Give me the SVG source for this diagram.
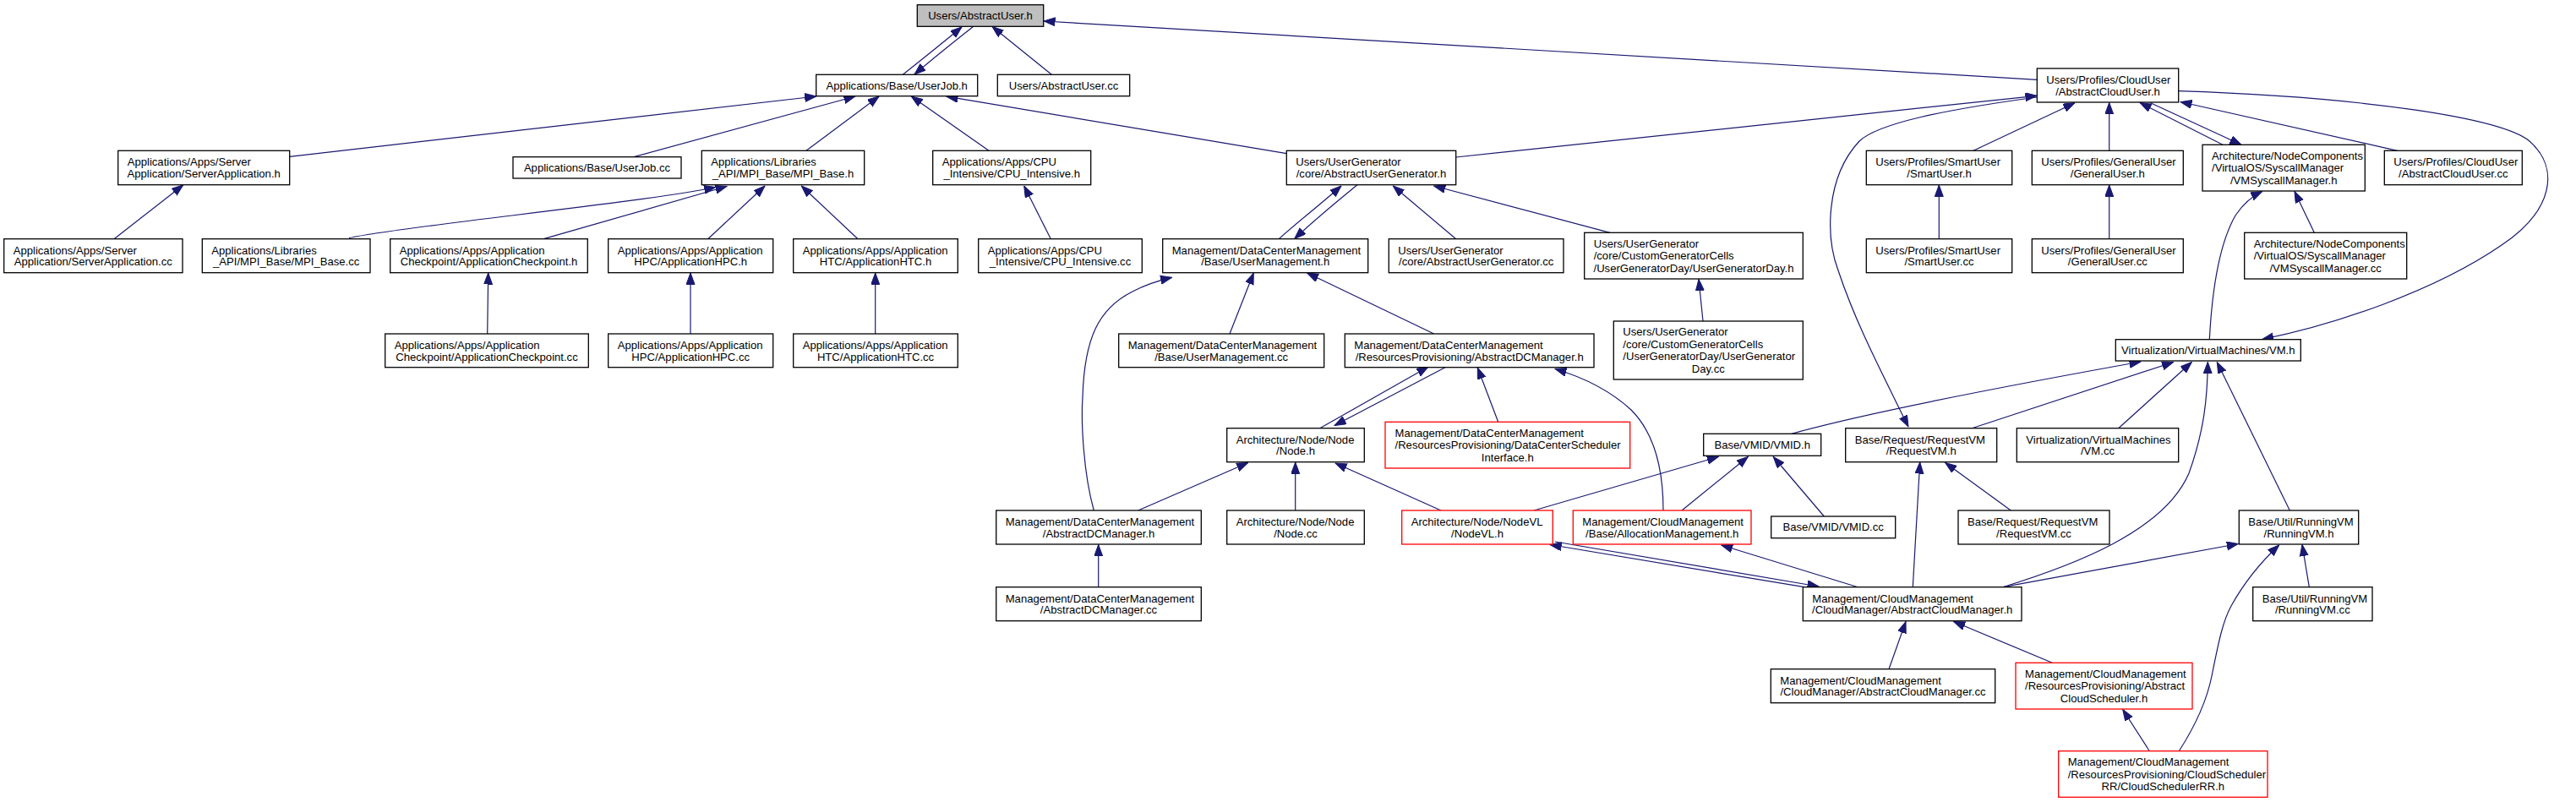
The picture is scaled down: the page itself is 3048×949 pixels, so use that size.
<svg xmlns="http://www.w3.org/2000/svg" width="3048" height="949" viewBox="0 0 3048 949">
<defs>
<style>
.n rect{fill:#fff;stroke:#000;stroke-width:1.3}
.r rect{stroke:#ff0000}
.g rect{fill:#bfbfbf}
text{font-family:"Liberation Sans",Arial,Helvetica,sans-serif;font-size:13.1px;fill:#000}
.c{text-anchor:middle}
#edges path{fill:none;stroke:#191970;stroke-width:1.2;marker-end:url(#ah)}
</style>
<marker id="ah" markerUnits="userSpaceOnUse" markerWidth="14" markerHeight="11" refX="13.5" refY="5" orient="auto">
<path d="M0,0 L13.5,5 L0,10 z" fill="#191970" stroke="#191970" stroke-width="1"/>
</marker>
</defs>
<rect width="3048" height="949" fill="#fff"/>
<g id="edges">
<path d="M1068.3,88.3 C1085,75 1110,55 1138,32"/>
<path d="M1151.7,31.3 C1133,46 1110,64 1082,88"/>
<path d="M1244.3,88.3 L1174,31.5"/>
<path d="M2410.3,94.3 L1235,25"/>
<path d="M342.7,185.3 L965.7,114"/>
<path d="M750,185.7 L1012,114"/>
<path d="M954,178.3 L1040,114"/>
<path d="M1170,178.3 L1078.3,114"/>
<path d="M1522.3,181.7 L1120,114.2"/>
<path d="M1513.3,282.7 C1530,267 1560,244 1587,220"/>
<path d="M1606,218.7 C1590,232 1560,256 1531.7,282.5"/>
<path d="M135,282.7 L216.7,219"/>
<path d="M413,281.7 C470,268 760,240 846.7,221.5"/>
<path d="M643.3,282.7 L860,220.5"/>
<path d="M837.7,282.7 L905,220"/>
<path d="M1015,282.7 L948.3,220"/>
<path d="M576.7,395 L577.7,323"/>
<path d="M817,395 L817,323"/>
<path d="M1035.7,395 L1035.7,323"/>
<path d="M1243.3,282.7 L1211.7,220"/>
<path d="M1722.7,186 L2410,113.3"/>
<path d="M2410,115 C2300,130 2222,146 2200,167 C2160,210 2160,280 2175,320 C2195,380 2222,432 2258,505"/>
<path d="M2335,178.3 L2455,121.7"/>
<path d="M2495.7,178.3 L2495.7,121.5"/>
<path d="M2630,171.3 L2532,121.5"/>
<path d="M2544,121.5 L2652,171.3"/>
<path d="M2836.7,178.3 L2580,120.5"/>
<path d="M2577.7,107.7 C2800,115 2960,140 2993,167 C3030,200 3020,250 2960,290 C2880,345 2760,385 2676.7,401.5"/>
<path d="M2614.3,401.7 C2617,350 2625,290 2645,255 C2655,240 2665,232 2676.7,226.5"/>
<path d="M2738.3,275.3 L2715,226.5"/>
<path d="M2294.3,282.7 L2294.3,219"/>
<path d="M2495.7,282.7 L2495.7,219"/>
<path d="M1722.7,282.7 L1648.3,220"/>
<path d="M1905,275.3 L1696.7,220"/>
<path d="M2015,380 L2010,330.5"/>
<path d="M1455,395 L1483.3,323"/>
<path d="M1696.7,395 L1546.7,323"/>
<path d="M1294.3,604 C1282,560 1279,500 1281,470 C1283,400 1300,365 1340,345 C1355,337 1370,332 1386.7,328.3"/>
<path d="M1561.7,506.7 L1690,434"/>
<path d="M1710,434.7 L1579,503.5"/>
<path d="M1772.7,499.3 L1748.3,435"/>
<path d="M1968,604 C1968,560 1960,515 1930,485 C1905,462 1875,447 1840,436.5"/>
<path d="M1346.7,604 L1476.7,547.5"/>
<path d="M1299.7,694.7 L1299.7,644.5"/>
<path d="M1532.7,604 L1532.7,547"/>
<path d="M1705,604 L1580,548"/>
<path d="M1815,604 L2033.3,540.5"/>
<path d="M1990,604 L2068.3,540.5"/>
<path d="M2158.3,611 L2098.3,540.5"/>
<path d="M2120,513.3 C2180,496 2300,470 2533,428"/>
<path d="M2333.3,506.7 L2571.7,428.5"/>
<path d="M2506.7,506.7 L2593.3,428.5"/>
<path d="M2370,694.7 C2450,670 2560,630 2590,560 C2608,510 2612,470 2612.3,428.5"/>
<path d="M2709.3,604 L2623.3,428.5"/>
<path d="M2370,694.7 L2648.3,643.5"/>
<path d="M2135,694.7 L1834,644.5"/>
<path d="M1840,641 L2152,694"/>
<path d="M2198.3,694.7 L2036.7,645"/>
<path d="M2263.3,694.7 L2271.7,547"/>
<path d="M2379.3,604 L2301.7,547.5"/>
<path d="M2235,791.7 L2255,735.5"/>
<path d="M2428.3,784.3 L2311.7,735.5"/>
<path d="M2543.3,888.7 L2511.7,839.5"/>
<path d="M2578.3,888.7 C2600,855 2612,825 2617,800 C2625,760 2630,735 2640,717 C2655,690 2672,668 2696.7,645"/>
<path d="M2732.3,694.7 L2724,644.5"/>
</g>
<g id="node_AbstractUser_h" class="n g"><rect x="1085.3" y="5.7" width="149.4" height="25.6"/><text class="c" x="1160" y="23">Users/AbstractUser.h</text></g>
<g id="node_UserJob_h" class="n"><rect x="965.7" y="88.3" width="191" height="25.4"/><text class="c" x="1061.2" y="105.5">Applications/Base/UserJob.h</text></g>
<g id="node_AbstractUser_cc" class="n"><rect x="1180.3" y="88.3" width="156.4" height="25.4"/><text class="c" x="1258.5" y="105.5">Users/AbstractUser.cc</text></g>
<g id="node_AbstractCloudUser_h" class="n"><rect x="2410.3" y="81" width="167.4" height="40"/><text x="2421.3" y="98.8">Users/Profiles/CloudUser</text><text class="c" x="2494" y="112.5">/AbstractCloudUser.h</text></g>
<g id="node_ServerApplication_h" class="n"><rect x="139.7" y="178.3" width="203" height="40.4"/><text x="150.7" y="196.1">Applications/Apps/Server</text><text class="c" x="241.2" y="209.8">Application/ServerApplication.h</text></g>
<g id="node_UserJob_cc" class="n"><rect x="607" y="185.7" width="199" height="25.3"/><text class="c" x="706.5" y="202.9">Applications/Base/UserJob.cc</text></g>
<g id="node_MPI_Base_h" class="n"><rect x="830.3" y="178.3" width="192.4" height="40.4"/><text x="841.3" y="196.1">Applications/Libraries</text><text class="c" x="926.5" y="209.8">_API/MPI_Base/MPI_Base.h</text></g>
<g id="node_CPU_Intensive_h" class="n"><rect x="1103.7" y="178.3" width="187" height="40.4"/><text x="1114.7" y="196.1">Applications/Apps/CPU</text><text class="c" x="1197.2" y="209.8">_Intensive/CPU_Intensive.h</text></g>
<g id="node_AbstractUserGenerator_h" class="n"><rect x="1522.3" y="178.3" width="200.4" height="40.4"/><text x="1533.3" y="196.1">Users/UserGenerator</text><text class="c" x="1622.5" y="209.8">/core/AbstractUserGenerator.h</text></g>
<g id="node_SmartUser_h" class="n"><rect x="2208.3" y="178.3" width="172.4" height="40.4"/><text x="2219.3" y="196.1">Users/Profiles/SmartUser</text><text class="c" x="2294.5" y="209.8">/SmartUser.h</text></g>
<g id="node_GeneralUser_h" class="n"><rect x="2404.3" y="178.3" width="179" height="40.4"/><text x="2415.3" y="196.1">Users/Profiles/GeneralUser</text><text class="c" x="2493.8" y="209.8">/GeneralUser.h</text></g>
<g id="node_VMSyscallManager_h" class="n"><rect x="2606" y="171.3" width="192.3" height="54.7"/><text x="2617" y="188.5">Architecture/NodeComponents</text><text x="2617" y="203.2">/VirtualOS/SyscallManager</text><text class="c" x="2702.2" y="217.9">/VMSyscallManager.h</text></g>
<g id="node_AbstractCloudUser_cc" class="n"><rect x="2821.3" y="178.3" width="163" height="40.4"/><text x="2832.3" y="196.1">Users/Profiles/CloudUser</text><text class="c" x="2902.8" y="209.8">/AbstractCloudUser.cc</text></g>
<g id="node_ServerApplication_cc" class="n"><rect x="4.7" y="282.7" width="211.3" height="40"/><text x="15.7" y="300.5">Applications/Apps/Server</text><text class="c" x="110.3" y="314.2">Application/ServerApplication.cc</text></g>
<g id="node_MPI_Base_cc" class="n"><rect x="239.3" y="282.7" width="198.7" height="40"/><text x="250.3" y="300.5">Applications/Libraries</text><text class="c" x="338.7" y="314.2">_API/MPI_Base/MPI_Base.cc</text></g>
<g id="node_ApplicationCheckpoint_h" class="n"><rect x="461.7" y="282.7" width="233.6" height="40"/><text x="472.7" y="300.5">Applications/Apps/Application</text><text class="c" x="578.5" y="314.2">Checkpoint/ApplicationCheckpoint.h</text></g>
<g id="node_ApplicationHPC_h" class="n"><rect x="719.7" y="282.7" width="195" height="40"/><text x="730.7" y="300.5">Applications/Apps/Application</text><text class="c" x="817.2" y="314.2">HPC/ApplicationHPC.h</text></g>
<g id="node_ApplicationHTC_h" class="n"><rect x="938.7" y="282.7" width="194.6" height="40"/><text x="949.7" y="300.5">Applications/Apps/Application</text><text class="c" x="1036" y="314.2">HTC/ApplicationHTC.h</text></g>
<g id="node_CPU_Intensive_cc" class="n"><rect x="1157.7" y="282.7" width="193.6" height="40"/><text x="1168.7" y="300.5">Applications/Apps/CPU</text><text class="c" x="1254.5" y="314.2">_Intensive/CPU_Intensive.cc</text></g>
<g id="node_UserManagement_h" class="n"><rect x="1375.7" y="282.7" width="243" height="40"/><text x="1386.7" y="300.5">Management/DataCenterManagement</text><text class="c" x="1497.2" y="314.2">/Base/UserManagement.h</text></g>
<g id="node_AbstractUserGenerator_cc" class="n"><rect x="1643.3" y="282.7" width="206.7" height="40"/><text x="1654.3" y="300.5">Users/UserGenerator</text><text class="c" x="1746.7" y="314.2">/core/AbstractUserGenerator.cc</text></g>
<g id="node_UserGeneratorDay_h" class="n"><rect x="1874.7" y="275.3" width="258.6" height="54.7"/><text x="1885.7" y="292.5">Users/UserGenerator</text><text x="1885.7" y="307.2">/core/CustomGeneratorCells</text><text class="c" x="2004" y="321.9">/UserGeneratorDay/UserGeneratorDay.h</text></g>
<g id="node_SmartUser_cc" class="n"><rect x="2208.3" y="282.7" width="172.4" height="40"/><text x="2219.3" y="300.5">Users/Profiles/SmartUser</text><text class="c" x="2294.5" y="314.2">/SmartUser.cc</text></g>
<g id="node_GeneralUser_cc" class="n"><rect x="2404.3" y="282.7" width="179" height="40"/><text x="2415.3" y="300.5">Users/Profiles/GeneralUser</text><text class="c" x="2493.8" y="314.2">/GeneralUser.cc</text></g>
<g id="node_VMSyscallManager_cc" class="n"><rect x="2655.7" y="275.3" width="192" height="54.7"/><text x="2666.7" y="292.5">Architecture/NodeComponents</text><text x="2666.7" y="307.2">/VirtualOS/SyscallManager</text><text class="c" x="2751.7" y="321.9">/VMSyscallManager.cc</text></g>
<g id="node_ApplicationCheckpoint_cc" class="n"><rect x="455.7" y="395" width="240.6" height="39.7"/><text x="466.7" y="412.8">Applications/Apps/Application</text><text class="c" x="576" y="426.5">Checkpoint/ApplicationCheckpoint.cc</text></g>
<g id="node_ApplicationHPC_cc" class="n"><rect x="719.7" y="395" width="195" height="39.7"/><text x="730.7" y="412.8">Applications/Apps/Application</text><text class="c" x="817.2" y="426.5">HPC/ApplicationHPC.cc</text></g>
<g id="node_ApplicationHTC_cc" class="n"><rect x="938.7" y="395" width="194.6" height="39.7"/><text x="949.7" y="412.8">Applications/Apps/Application</text><text class="c" x="1036" y="426.5">HTC/ApplicationHTC.cc</text></g>
<g id="node_UserManagement_cc" class="n"><rect x="1323.7" y="395" width="243" height="39.7"/><text x="1334.7" y="412.8">Management/DataCenterManagement</text><text class="c" x="1445.2" y="426.5">/Base/UserManagement.cc</text></g>
<g id="node_RP_AbstractDCManager_h" class="n"><rect x="1591.3" y="395" width="294.7" height="39.7"/><text x="1602.3" y="412.8">Management/DataCenterManagement</text><text class="c" x="1738.7" y="426.5">/ResourcesProvisioning/AbstractDCManager.h</text></g>
<g id="node_UserGeneratorDay_cc" class="n"><rect x="1909.3" y="380" width="224" height="69"/><text x="1920.3" y="397">Users/UserGenerator</text><text x="1920.3" y="411.7">/core/CustomGeneratorCells</text><text x="1920.3" y="426.4">/UserGeneratorDay/UserGenerator</text><text class="c" x="2021.3" y="441.1">Day.cc</text></g>
<g id="node_VM_h" class="n"><rect x="2503.3" y="401.7" width="219" height="25.3"/><text class="c" x="2612.8" y="418.9">Virtualization/VirtualMachines/VM.h</text></g>
<g id="node_Node_h" class="n"><rect x="1451.7" y="506.7" width="162.6" height="40"/><text x="1462.7" y="524.5">Architecture/Node/Node</text><text class="c" x="1533" y="538.2">/Node.h</text></g>
<g id="node_DataCenterSchedulerInterface_h" class="n r"><rect x="1639" y="499.3" width="289.7" height="54.7"/><text x="1650.5" y="516.5">Management/DataCenterManagement</text><text x="1650.5" y="531.2">/ResourcesProvisioning/DataCenterScheduler</text><text class="c" x="1783.8" y="545.9">Interface.h</text></g>
<g id="node_VMID_h" class="n"><rect x="2015.7" y="513.3" width="139" height="26"/><text class="c" x="2085.2" y="530.8">Base/VMID/VMID.h</text></g>
<g id="node_RequestVM_h" class="n"><rect x="2183.7" y="506.7" width="179" height="40"/><text x="2194.7" y="524.5">Base/Request/RequestVM</text><text class="c" x="2273.2" y="538.2">/RequestVM.h</text></g>
<g id="node_VM_cc" class="n"><rect x="2386.3" y="506.7" width="191.4" height="40"/><text x="2397.3" y="524.5">Virtualization/VirtualMachines</text><text class="c" x="2482" y="538.2">/VM.cc</text></g>
<g id="node_DCM_AbstractDCManager_h" class="n"><rect x="1178.7" y="604" width="242.6" height="40"/><text x="1189.7" y="621.8">Management/DataCenterManagement</text><text class="c" x="1300" y="635.5">/AbstractDCManager.h</text></g>
<g id="node_Node_cc" class="n"><rect x="1451.7" y="604" width="162.6" height="40"/><text x="1462.7" y="621.8">Architecture/Node/Node</text><text class="c" x="1533" y="635.5">/Node.cc</text></g>
<g id="node_NodeVL_h" class="n r"><rect x="1658.7" y="604" width="178.6" height="40"/><text x="1669.7" y="621.8">Architecture/Node/NodeVL</text><text class="c" x="1748" y="635.5">/NodeVL.h</text></g>
<g id="node_AllocationManagement_h" class="n r"><rect x="1861.3" y="604" width="210.7" height="40"/><text x="1872.3" y="621.8">Management/CloudManagement</text><text class="c" x="1966.7" y="635.5">/Base/AllocationManagement.h</text></g>
<g id="node_VMID_cc" class="n"><rect x="2095.7" y="611" width="147" height="25.7"/><text class="c" x="2169.2" y="628.4">Base/VMID/VMID.cc</text></g>
<g id="node_RequestVM_cc" class="n"><rect x="2317" y="604" width="179" height="40"/><text x="2328" y="621.8">Base/Request/RequestVM</text><text class="c" x="2406.5" y="635.5">/RequestVM.cc</text></g>
<g id="node_RunningVM_h" class="n"><rect x="2649.3" y="604" width="141.4" height="40"/><text x="2660.3" y="621.8">Base/Util/RunningVM</text><text class="c" x="2720" y="635.5">/RunningVM.h</text></g>
<g id="node_DCM_AbstractDCManager_cc" class="n"><rect x="1178.7" y="694.7" width="242.6" height="40"/><text x="1189.7" y="712.5">Management/DataCenterManagement</text><text class="c" x="1300" y="726.2">/AbstractDCManager.cc</text></g>
<g id="node_AbstractCloudManager_h" class="n"><rect x="2133.3" y="694.7" width="258.7" height="40"/><text x="2144.3" y="712.5">Management/CloudManagement</text><text class="c" x="2262.7" y="726.2">/CloudManager/AbstractCloudManager.h</text></g>
<g id="node_RunningVM_cc" class="n"><rect x="2665.7" y="694.7" width="141.3" height="40"/><text x="2676.7" y="712.5">Base/Util/RunningVM</text><text class="c" x="2736.3" y="726.2">/RunningVM.cc</text></g>
<g id="node_AbstractCloudManager_cc" class="n"><rect x="2095.3" y="791.7" width="265.4" height="40"/><text x="2106.3" y="809.5">Management/CloudManagement</text><text class="c" x="2228" y="823.2">/CloudManager/AbstractCloudManager.cc</text></g>
<g id="node_AbstractCloudScheduler_h" class="n r"><rect x="2385" y="784.3" width="209" height="54.7"/><text x="2396" y="801.5">Management/CloudManagement</text><text x="2396" y="816.2">/ResourcesProvisioning/Abstract</text><text class="c" x="2489.5" y="830.9">CloudScheduler.h</text></g>
<g id="node_CloudSchedulerRR_h" class="n r"><rect x="2435.7" y="888.7" width="247.3" height="54.6"/><text x="2446.7" y="905.9">Management/CloudManagement</text><text x="2446.7" y="920.6">/ResourcesProvisioning/CloudScheduler</text><text class="c" x="2559.3" y="935.3">RR/CloudSchedulerRR.h</text></g>
</svg>
